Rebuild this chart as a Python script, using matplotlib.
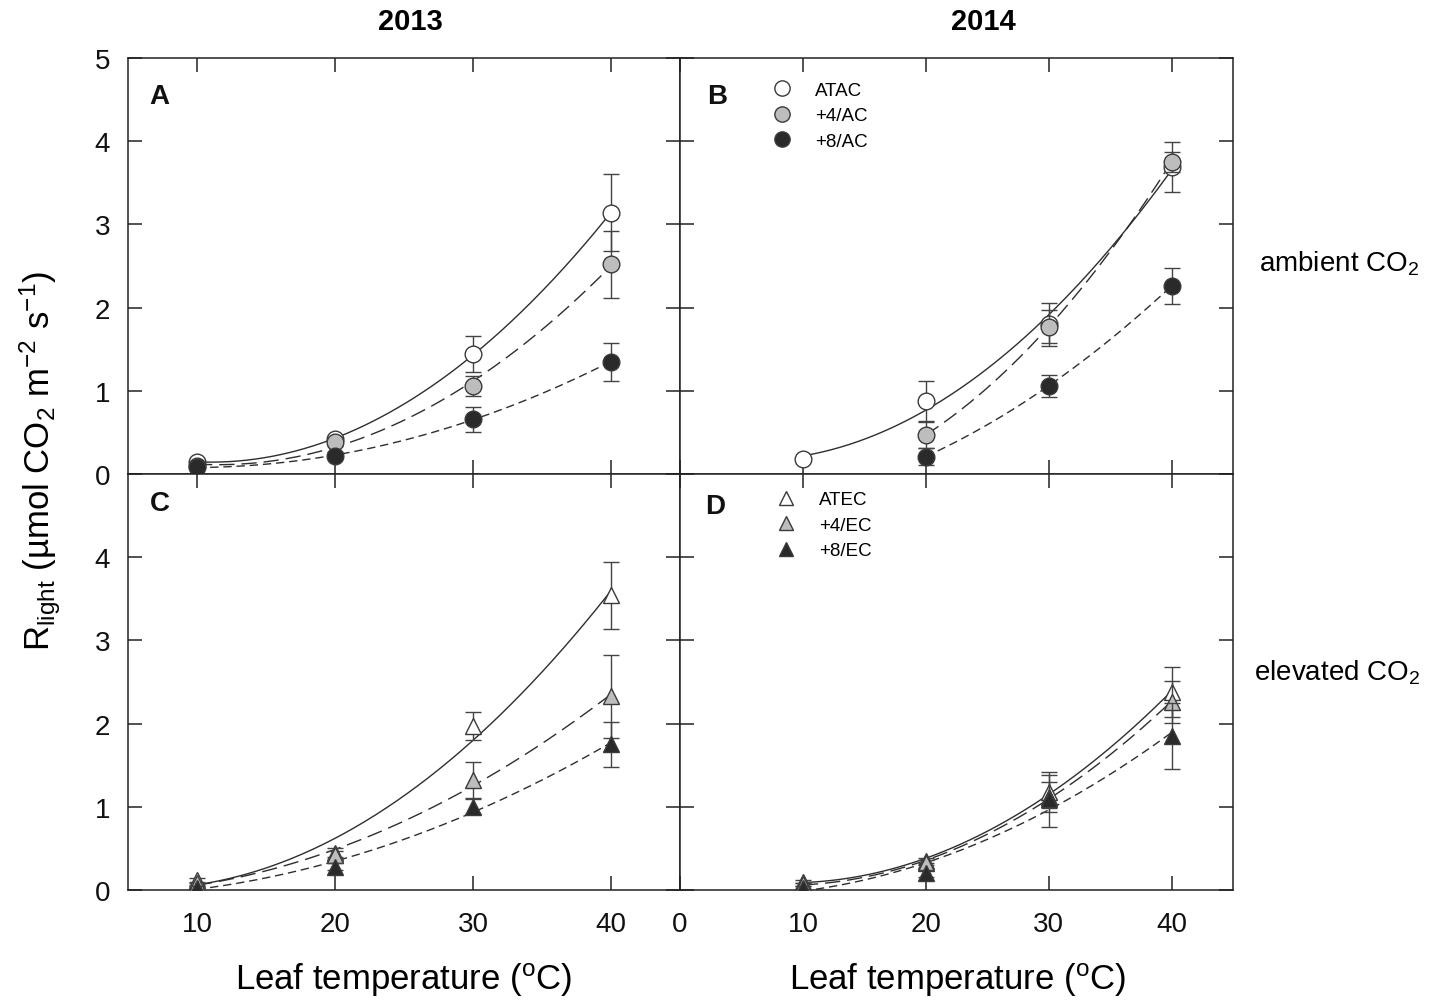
import numpy as np
import matplotlib
matplotlib.use("Agg")
import matplotlib.pyplot as plt
from matplotlib.lines import Line2D

plt.rcParams['font.family'] = ['Liberation Sans', 'DejaVu Sans']
plt.rcParams['mathtext.fontset'] = 'custom'
plt.rcParams['mathtext.rm'] = 'Liberation Sans'
plt.rcParams['mathtext.it'] = 'Liberation Sans:italic'
plt.rcParams['mathtext.bf'] = 'Liberation Sans:bold'

# Leaf temperatures (degC)
temps = [10, 20, 30, 40]
temps_b = [10, 20, 30, 40]
temps_b_warm = [20, 30, 40]

# Panel A: 2013, ambient CO2
a_atac = [0.15, 0.42, 1.44, 3.14]
a_atac_se = [0.03, 0.04, 0.22, 0.46]
a_p4ac = [0.10, 0.38, 1.06, 2.52]
a_p4ac_se = [0.02, 0.04, 0.12, 0.40]
a_p8ac = [0.08, 0.22, 0.66, 1.35]
a_p8ac_se = [0.02, 0.04, 0.15, 0.23]

# Panel B: 2014, ambient CO2
b_atac = [0.18, 0.88, 1.80, 3.69]
b_atac_se = [0.03, 0.24, 0.26, 0.30]
b_p4ac = [0.47, 1.77, 3.75]
b_p4ac_se = [0.16, 0.20, 0.12]
b_p8ac = [0.21, 1.06, 2.26]
b_p8ac_se = [0.10, 0.13, 0.22]

# Panel C: 2013, elevated CO2
c_atec = [0.12, 0.45, 1.97, 3.54]
c_atec_se = [0.03, 0.05, 0.17, 0.40]
c_p4ec = [0.08, 0.42, 1.32, 2.33]
c_p4ec_se = [0.02, 0.05, 0.22, 0.50]
c_p8ec = [0.03, 0.28, 1.00, 1.75]
c_p8ec_se = [0.02, 0.04, 0.09, 0.27]

# Panel D: 2014, elevated CO2
d_atec = [0.10, 0.35, 1.18, 2.38]
d_atec_se = [0.02, 0.03, 0.20, 0.30]
d_p4ec = [0.07, 0.33, 1.12, 2.26]
d_p4ec_se = [0.02, 0.03, 0.18, 0.25]
d_p8ec = [0.03, 0.20, 1.09, 1.85]
d_p8ec_se = [0.02, 0.04, 0.33, 0.40]

ambient_labels = ['ATAC', '+4/AC', '+8/AC']
elevated_labels = ['ATEC', '+4/EC', '+8/EC']

face_colors = ['white', '#bdbdbd', '#2a2a2a']
line_dashes = [None, (11, 5), (6, 3.5)]
EDGE = '#3a3a3a'

W, H = 1441, 1004
fig = plt.figure(figsize=(W / 100, H / 100), dpi=100)


def frac_box(x0, y0, x1, y1):
    return [x0 / W, 1 - y1 / H, (x1 - x0) / W, (y1 - y0) / H]


axA = fig.add_axes(frac_box(128, 59, 680, 475))
axB = fig.add_axes(frac_box(680, 59, 1233, 475))
axC = fig.add_axes(frac_box(128, 475, 680, 891))
axD = fig.add_axes(frac_box(680, 475, 1233, 891))


def draw_series(ax, x, y, se, idx, marker, ms):
    x = np.asarray(x, float)
    y = np.asarray(y, float)
    coef = np.polyfit(x, y, 2)
    xs = np.linspace(x.min(), x.max(), 200)
    ln, = ax.plot(xs, np.polyval(coef, xs), color='#2e2e2e', lw=1.0, zorder=2)
    if line_dashes[idx] is not None:
        ln.set_dashes(line_dashes[idx])
    ax.errorbar(x, y, yerr=se, fmt='none', ecolor='#444444', elinewidth=1.0,
                capsize=6, capthick=1.0, zorder=3 + idx)
    ax.plot(x, y, ls='none', marker=marker, ms=ms, mfc=face_colors[idx],
            mec=EDGE, mew=1.0, zorder=4 + idx)


draw_series(axA, temps, a_atac, a_atac_se, 0, 'o', 12)
draw_series(axA, temps, a_p4ac, a_p4ac_se, 1, 'o', 12)
draw_series(axA, temps, a_p8ac, a_p8ac_se, 2, 'o', 12)

draw_series(axB, temps_b, b_atac, b_atac_se, 0, 'o', 12)
draw_series(axB, temps_b_warm, b_p4ac, b_p4ac_se, 1, 'o', 12)
draw_series(axB, temps_b_warm, b_p8ac, b_p8ac_se, 2, 'o', 12)

draw_series(axC, temps, c_atec, c_atec_se, 0, '^', 11.5)
draw_series(axC, temps, c_p4ec, c_p4ec_se, 1, '^', 11.5)
draw_series(axC, temps, c_p8ec, c_p8ec_se, 2, '^', 11.5)

draw_series(axD, temps, d_atec, d_atec_se, 0, '^', 11.5)
draw_series(axD, temps, d_p4ec, d_p4ec_se, 1, '^', 11.5)
draw_series(axD, temps, d_p8ec, d_p8ec_se, 2, '^', 11.5)

for ax in (axA, axB, axC, axD):
    ax.set_ylim(0, 5)
    for s in ax.spines.values():
        s.set_linewidth(1.1)
        s.set_color('#222222')
    ax.tick_params(direction='in', length=10, width=1.1, color='#222222',
                   top=True, right=True, labelsize=20, labelcolor='#111111')
    ax.tick_params(axis='x', pad=15)
    ax.tick_params(axis='y', pad=13)

for ax in (axA, axC):
    ax.set_xlim(5, 45)
    ax.set_xticks([10, 20, 30, 40])
for ax in (axB, axD):
    ax.set_xlim(0, 45)
    ax.set_xticks([0, 10, 20, 30, 40])
    ax.tick_params(labelleft=False)

axA.set_yticks([0, 1, 2, 3, 4, 5])
axB.set_yticks([0, 1, 2, 3, 4, 5])
axC.set_yticks([0, 1, 2, 3, 4, 5])
axC.set_yticklabels(['0', '1', '2', '3', '4', ''])
axD.set_yticks([0, 1, 2, 3, 4, 5])
for ax in (axA, axB):
    ax.tick_params(labelbottom=False)

# Panel letters
for ax, letter, (lx, ly) in ((axA, 'A', (0.038, 0.909)), (axB, 'B', (0.049, 0.909)),
                             (axC, 'C', (0.040, 0.930)), (axD, 'D', (0.045, 0.923))):
    ax.text(lx, ly, letter, transform=ax.transAxes, fontsize=20, fontweight='bold',
            ha='left', va='center', color='#111111')

# Legends
def legend_handles(marker, ms):
    return [Line2D([], [], ls='none', marker=marker, ms=ms, mfc=fc, mec=EDGE, mew=1.0)
            for fc in face_colors]

axB.legend(legend_handles('o', 11), ambient_labels, loc='upper left',
           bbox_to_anchor=(0.167, 0.943), frameon=False, fontsize=13.5,
           handlelength=1.0, handletextpad=1.26, labelspacing=0.45,
           borderpad=0, borderaxespad=0)
axD.legend(legend_handles('^', 10.5), elevated_labels, loc='upper left',
           bbox_to_anchor=(0.175, 0.959), frameon=False, fontsize=13.5,
           handlelength=1.0, handletextpad=1.26, labelspacing=0.45,
           borderpad=0, borderaxespad=0)

# Column headers, row labels and axis titles
fig.text(410 / W, 1 - 22 / H, '2013', fontsize=21, fontweight='bold', ha='center', va='center')
fig.text(983 / W, 1 - 22 / H, '2014', fontsize=21, fontweight='bold', ha='center', va='center')
fig.text(1339 / W, 1 - 264 / H, 'ambient CO$_2$', fontsize=20, ha='center', va='center')
fig.text(1337 / W, 1 - 673 / H, 'elevated CO$_2$', fontsize=20, ha='center', va='center')
fig.text(404 / W, 1 - 980 / H, 'Leaf temperature ($^{\\mathrm{o}}$C)', fontsize=25,
         ha='center', va='center')
fig.text(958 / W, 1 - 980 / H, 'Leaf temperature ($^{\\mathrm{o}}$C)', fontsize=25,
         ha='center', va='center')
fig.text(40 / W, 1 - 461 / H,
         'R$_{\\mathrm{light}}$ (\u00b5mol CO$_2$ m$^{-2}$ s$^{-1}$)',
         fontsize=25, rotation=90, ha='center', va='center')

fig.savefig('out.png', dpi=100, facecolor='white')
